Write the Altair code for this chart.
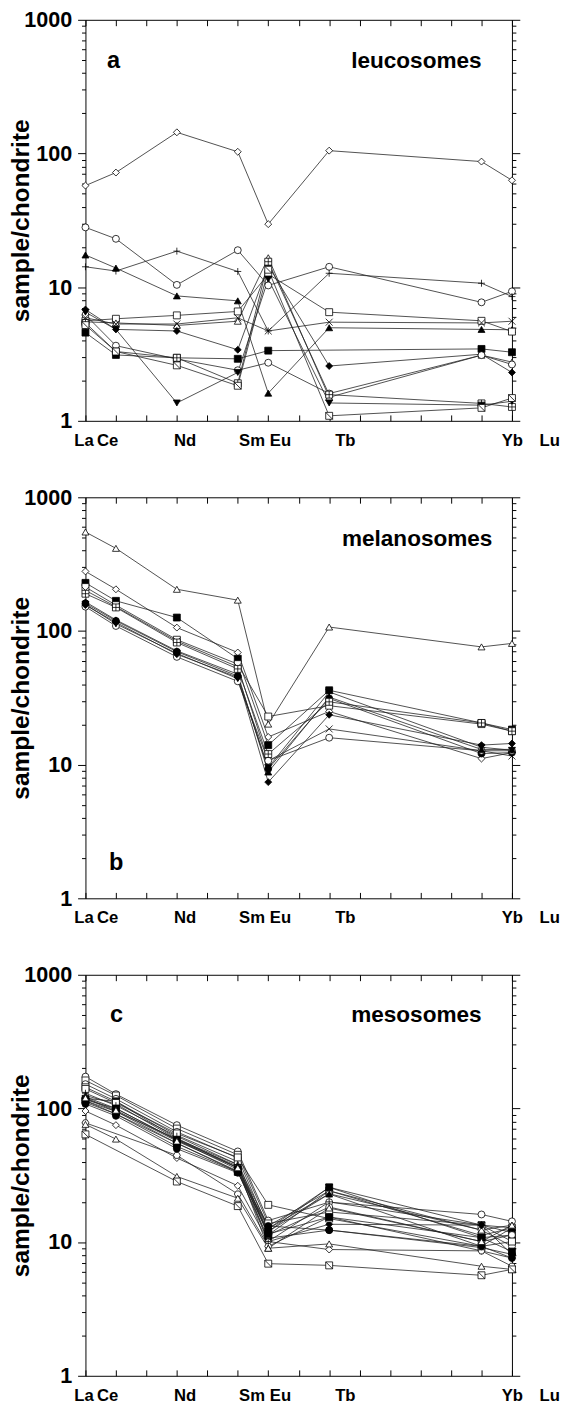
import altair as alt
import pandas as pd

FONT = "Liberation Sans"

ELEMENTS = ["La", "Ce", "Nd", "Sm", "Eu", "Tb", "Yb", "Lu"]
Z = [57, 58, 60, 62, 63, 65, 70, 71]
TICK_Z = list(range(57, 72))
TICK_TEXT = ["La", "Ce", "", "Nd", "", "Sm", "Eu", "", "Tb", "", "", "", "", "Yb", "Lu"]
LABEL_SHIFT = {57: -2, 58: -9, 60: 8, 62: 14, 63: 12, 65: 16, 70: 31, 71: 38}
Y_TICKS = [1, 2, 3, 4, 5, 6, 7, 8, 9, 10, 20, 30, 40, 50, 60, 70, 80, 90,
           100, 200, 300, 400, 500, 600, 700, 800, 900, 1000]
Y_MAJOR = [1, 10, 100, 1000]

PANEL_TAGS = ["a", "b", "c"]
PANEL_NAMES = ["leucosomes", "melanosomes", "mesosomes"]

# symbol name -> (vega shape, fill)
SYMBOLS = {
    "diamond_o": ("diamond", "white"),
    "diamond_f": ("diamond", "black"),
    "circle_o": ("circle", "white"),
    "circle_f": ("circle", "black"),
    "tri_o": ("triangle-up", "white"),
    "tri_f": ("triangle-up", "black"),
    "tridown_f": ("triangle-down", "black"),
    "square_o": ("square", "white"),
    "square_f": ("square", "black"),
    "plus": ("M-1,0L1,0M0,-1L0,1", "white"),
    "cross": ("M-1,-1L1,1M-1,1L1,-1", "white"),
    "xsq": ("M-1,-1L1,-1L1,1L-1,1Z M0,-1L0,1 M-1,0L1,0", "white"),
    "sqdiag": ("M-1,-1L1,-1L1,1L-1,1Z M-1,-1L1,1", "white"),
    "hex_o": ("M-1,0L-0.5,-0.87L0.5,-0.87L1,0L0.5,0.87L-0.5,0.87Z", "white"),
}

# ---- panel a: leucosomes (La, Ce, Nd, Sm, Eu, Tb, Yb, Lu) ----
A_SYMS = ["diamond_o", "circle_o", "tri_f", "plus", "square_o", "tri_o", "diamond_f",
          "square_f", "circle_o", "xsq", "tridown_f", "cross", "sqdiag"]
A_VALS = [
    [57.5, 72, 144, 103, 29.6, 105, 87, 63],
    [28, 23, 10.4, 18.9, 10.3, 14.2, 7.7, 9.3],
    [17.4, 13.9, 8.6, 7.9, 1.61, 4.97, 4.83, 4.8],
    [14.2, 13.2, 18.6, 13.1, 4.7, 12.7, 10.7, 8.5],
    [5.6, 5.8, 6.15, 6.58, 12.5, 6.5, 5.6, 4.65],
    [5.5, 5.4, 5.17, 5.56, 16.6, 1.5, 3.1, 2.75],
    [6.8, 4.83, 4.7, 3.4, 14.5, 2.57, 3.15, 2.3],
    [4.57, 3.11, 2.96, 2.91, 3.35, None, 3.45, 3.26],
    [6.2, 3.65, 2.9, 2.39, 2.72, 1.6, 3.1, 2.64],
    [5.4, 3.3, 2.96, 1.91, 15.5, 1.57, 1.35, 1.27],
    [6.5, 4.83, 1.36, 2.3, 11.5, 1.36, 1.31, 1.4],
    [5.9, 5.3, 5.3, 5.9, 4.7, 5.47, 5.4, 5.56],
    [5.2, 3.3, 2.6, 1.83, 13.5, 1.09, 1.25, 1.48],
]

# ---- panel b: melanosomes ----
B_SYMS = ["tri_o", "diamond_o", "square_f", "square_o", "cross", "circle_f",
          "circle_o", "diamond_f", "tri_f", "xsq", "tridown_f"]
B_VALS = [
    [550, 415, 205, 170, 20.1, 107, 76, 80.7],
    [279, 205, 106, 69, 16.1, 25, 11.1, 12.3],
    [229, 168, 126, 62, 14, 36, 20.5, 18.3],
    [213, 156, 86, 56.5, 22.9, 27.6, 20.1, 17.8],
    [201, 152, 84, 54, 10.7, 18.5, 12.7, 11.6],
    [161, 119, 70, 46, 9.3, 31.3, 12.1, 12.3],
    [152, 109, 64, 42, 10.7, 15.9, 12.7, 12.7],
    [156, 116, 67, 45, 7.4, 23.6, 14, 14.4],
    [165, 121, 71, 47.5, 8.8, 32, 13.0, 13.0],
    [190, 150, 82, 52, 12, 29.5, 20.5, 17.8],
    [158, 113, 68, 44, 9.5, 35, 13.5, 12.8],
]

# ---- panel c: mesosomes ----
C_SYMS = ["circle_o", "square_o", "circle_o", "square_o", "tri_o", "tridown_f", "square_f",
          "circle_f", "diamond_f", "circle_o", "tri_f", "diamond_o", "hex_o", "tri_o",
          "sqdiag", "square_o", "square_f", "circle_f", "plus", "tri_o"]
C_VALS = [
    [173, 128, 75, 47.7, 14.5, 19.9, 16.1, 14.3],
    [162, 125, 70.7, 45, 13.8, 16.8, 13.4, 10.1],
    [152, 118, 66.8, 42.6, 12.6, 23, 12.3, 9.3],
    [144, 113, 63, 40, 11.3, 24.2, 11.2, 12.8],
    [125, 108, 59, 38, 13.2, 24.2, 12.3, 13.4],
    [119, 113, 60, 36, 12.6, 25.7, 13.4, 11.8],
    [114, 95, 55, 33.5, 12, 25.7, 10.8, 11.3],
    [111, 91, 52, 33.5, 10.7, 12.3, 9.1, 8.1],
    [114, 91, 55, 34, 10.1, 13.6, 13.4, 8.1],
    [119, 95, 59, 36, 11.3, 18.3, 10.1, 11.3],
    [122, 100, 58, 37, 12, 22.9, 9.3, 12.8],
    [95.7, 75, 42.6, 26.4, 10.1, 8.8, 8.6, 7.6],
    [78, None, 44.6, 22.9, 9.3, 15.4, 8.6, 6.6],
    [76, 59, 31, 21.3, 9.0, 9.7, 6.6, 6.25],
    [64, None, 28.4, 18.6, 6.9, 6.7, 5.65, 6.25],
    [140, 110, 65, 43, 19, 15, 9.3, 10.1],
    [116, 100, 58, 35, 11.5, 15.4, 10.8, 8.5],
    [108, 88, 50, 33, 13.2, 12.3, 9.3, 7.6],
    [130, 105, 62, 38, 10.1, 20, 13.4, 12.8],
    [120, 97, 57, 36, 9.0, 18, 10.1, 13.4],
]


def build(syms, vals, tag):
    rows = []
    for i, (s, vs) in enumerate(zip(syms, vals)):
        for z, v in zip(Z, vs):
            if v is None:
                continue
            rows.append({"sample": f"{tag}{i}", "z": z, "v": v, "sym": s,
                         "fill": SYMBOLS[s][1]})
    return pd.DataFrame(rows)


sym_domain = list(SYMBOLS.keys())
sym_range = [SYMBOLS[k][0] for k in sym_domain]

label_expr = "[" + ",".join(f"'{t}'" for t in TICK_TEXT) + "][datum.value - 57]"
label_offset = {
    "condition": [{"test": f"datum.value == {z}", "value": off} for z, off in LABEL_SHIFT.items()],
    "value": 0,
}
major_test = "indexof([" + ",".join(str(m) for m in Y_MAJOR) + "], datum.value) >= 0"
y_tick_size = {"condition": {"test": major_test, "value": 8}, "value": 4}

x_scale = alt.Scale(domain=[57, 71], nice=False, zero=False)
y_scale = alt.Scale(type="log", domain=[1, 1000], nice=False)

bottom_axis = alt.Axis(orient="bottom", values=TICK_Z, labelExpr=label_expr,
                       labelOffset=label_offset, labelFont=FONT, labelFontSize=17,
                       labelFontWeight="bold", labelColor="black", labelPadding=18,
                       labelOverlap=False, labelFlush=False, tickSize={"expr": "-6"},
                       tickColor="black", tickWidth=1, domain=False, grid=False, title=None)
top_axis = alt.Axis(orient="top", values=TICK_Z, labels=False, tickSize={"expr": "-6"},
                    tickColor="black", tickWidth=1, domain=False, grid=False, title=None,
                    minExtent=0, maxExtent=0)
left_axis = alt.Axis(orient="left", values=Y_TICKS,
                     labelExpr=f"{major_test} ? '' + datum.value : ''",
                     labelFont=FONT, labelFontSize=22, labelFontWeight="bold",
                     labelColor="black", labelPadding=6, labelOverlap=False, labelFlush=False,
                     tickSize=y_tick_size, tickColor="black", tickWidth=1, domain=False,
                     grid=False, title="sample/chondrite", titleFont=FONT, titleFontSize=25,
                     titleFontWeight="bold", titleColor="black", titlePadding=-10)
right_axis = alt.Axis(orient="right", values=Y_TICKS, labels=False, tickSize=y_tick_size,
                      tickColor="black", tickWidth=1, domain=False, grid=False, title=None,
                      minExtent=0)


def panel(df, tag, name, tag_xy, name_xy):
    lines = alt.Chart(df).mark_line(color="#222", strokeWidth=0.8).encode(
        x=alt.X("z:Q", scale=x_scale, axis=bottom_axis),
        y=alt.Y("v:Q", scale=y_scale, axis=left_axis),
        detail="sample:N",
        order="z:Q",
    )
    pts = alt.Chart(df).mark_point(filled=True, size=50, stroke="black", strokeWidth=0.8,
                                   opacity=1).encode(
        x=alt.X("z:Q", scale=x_scale, axis=top_axis),
        y=alt.Y("v:Q", scale=y_scale, axis=right_axis),
        shape=alt.Shape("sym:N", scale=alt.Scale(domain=sym_domain, range=sym_range), legend=None),
        fill=alt.Fill("fill:N", scale=None),
    )
    t1 = alt.Chart(pd.DataFrame({"t": [tag]})).mark_text(
        font=FONT, fontSize=24, fontWeight="bold", align="left", baseline="alphabetic",
        color="black").encode(text="t:N", x=alt.value(tag_xy[0]), y=alt.value(tag_xy[1]))
    t2 = alt.Chart(pd.DataFrame({"t": [name]})).mark_text(
        font=FONT, fontSize=23, fontWeight="bold", align="right", baseline="alphabetic",
        color="black").encode(text="t:N", x=alt.value(name_xy[0]), y=alt.value(name_xy[1]))
    return alt.layer(lines, pts, t1, t2).resolve_axis(x="independent", y="independent").properties(
        width=435, height=409)


pa = panel(build(A_SYMS, A_VALS, "a"), PANEL_TAGS[0], PANEL_NAMES[0], (22, 49), (404, 49))
pb = panel(build(B_SYMS, B_VALS, "b"), PANEL_TAGS[1], PANEL_NAMES[1], (24, 380), (415, 50))
pc = panel(build(C_SYMS, C_VALS, "c"), PANEL_TAGS[2], PANEL_NAMES[2], (25, 48), (404, 48))

chart = alt.vconcat(pa, pb, pc, spacing=37).configure_view(
    stroke="black", strokeWidth=1).properties(
    padding={"left": 0, "top": -14, "right": 0, "bottom": 0}, background="white")

chart.save("out.html", embed_options={"renderer": "svg", "actions": False})
